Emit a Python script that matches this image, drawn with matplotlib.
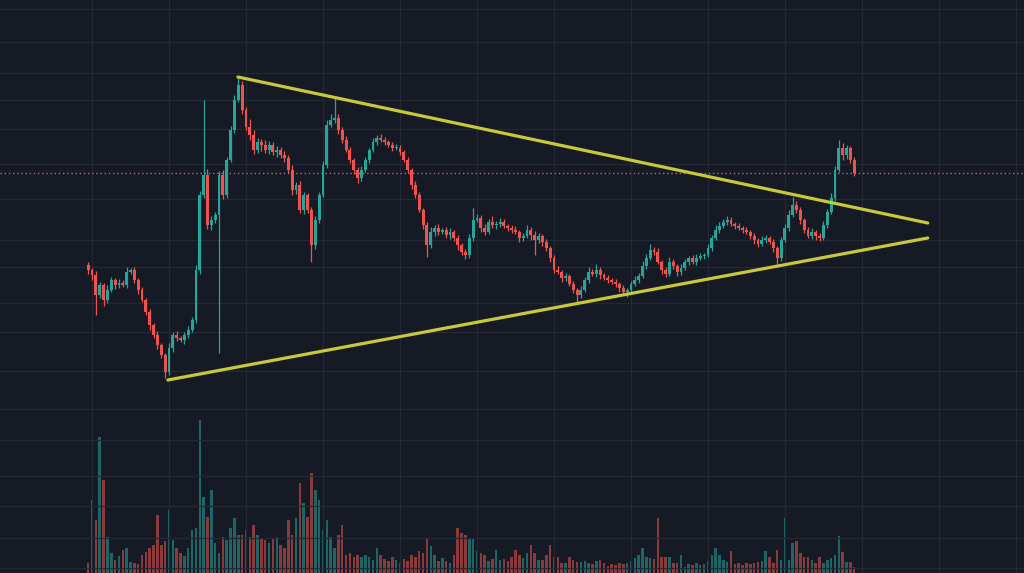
import numpy as np
import matplotlib
matplotlib.use("Agg")
import matplotlib.pyplot as plt

# Datos (precio en unidades arbitrarias, una vela por periodo)
first_open = 30.8
close = [
    30.3, 29.8, 27.8, 28.8, 27.3, 28.3, 29.3, 28.8, 29.0, 28.8,
    30.1, 30.3, 29.3, 28.3, 27.3, 26.1, 24.8, 23.8, 22.8, 21.8,
    20.1, 22.5, 23.8, 23.5, 23.3, 23.8, 24.3, 25.3, 30.3, 37.8,
    39.8, 34.8, 35.3, 35.8, 39.8, 37.8, 41.3, 44.3, 47.3, 48.8,
    46.3, 44.6, 43.8, 42.3, 43.1, 42.8, 42.3, 42.8, 42.1, 42.3,
    41.8, 41.5, 40.3, 38.3, 38.8, 36.3, 37.8, 36.3, 32.8, 35.3,
    37.8, 40.8, 44.8, 45.3, 45.5, 44.3, 43.3, 42.3, 41.3, 40.3,
    39.5, 40.3, 41.3, 42.3, 43.1, 43.5, 43.3, 43.1, 42.8, 42.5,
    42.5, 42.1, 41.3, 40.3, 38.8, 37.8, 36.3, 34.8, 32.8, 34.1,
    34.5, 34.1, 34.3, 33.8, 34.1, 33.5, 32.8, 32.1, 31.8, 33.5,
    35.3, 35.5, 34.5, 34.1, 35.1, 34.8, 34.9, 35.1, 34.7, 34.5,
    34.3, 34.1, 33.5, 33.7, 34.3, 33.8, 33.3, 33.7, 33.1, 32.5,
    31.5, 30.3, 30.1, 29.5, 29.7, 28.9, 28.3, 27.8, 28.3, 29.3,
    30.1, 29.9, 30.3, 29.8, 29.5, 29.3, 29.1, 28.9, 28.5, 28.1,
    28.3, 28.9, 29.3, 29.7, 30.7, 31.5, 32.3, 32.1, 31.1, 30.3,
    29.9, 31.1, 30.7, 30.1, 30.5, 31.1, 31.5, 31.1, 31.5, 31.7,
    31.8, 32.5, 33.5, 34.3, 34.7, 35.1, 35.3, 34.9, 34.7, 34.5,
    34.3, 34.1, 33.7, 33.3, 32.9, 33.3, 33.5, 33.1, 32.5, 31.5,
    33.3, 34.5, 35.8, 36.8, 36.3, 35.3, 34.3, 33.7, 34.1, 33.7,
    33.5, 34.8, 36.1, 37.5, 40.3, 42.5, 41.8, 42.5, 41.3, 40.0,
]
wick_up = [
    .3, .2, .4, .3, .2, .5, .3, .2, .4, .3,
    .5, .2, .3, .2, .3, .2, .3, .2, .4, .2,
    .2, .5, .3, .4, .2, .3, .4, .3, .5, .4,
    7.5, .6, .4, .3, .4, .5, .3, .4, .5, .8,
    .4, .3, .8, .5, .4, .3, .5, .4, .3, .4,
    .3, .4, .3, .5, .3, .4, .3, .2, .3, .4,
    .3, .4, .5, .6, 2.0, .4, .3, .4, .3, .2,
    .3, .4, .3, .2, .4, .3, .4, .3, .2, .3,
    .4, .3, .2, .3, .2, .4, .3, .2, .3, .5,
    .3, .4, .2, .3, .4, .2, .3, .2, .3, .4,
    1.2, .4, .3, .4, .3, .6, .3, .4, .3, .2,
    .3, .4, .2, .3, .5, .3, .4, .3, .2, .3,
    .2, .3, .4, .2, .3, .2, .3, .2, .4, .3,
    .5, .3, .6, .3, .2, .3, .2, .3, .2, .3,
    .2, .3, .4, .3, .5, .4, .6, .3, .4, .2,
    .3, .5, .3, .2, .4, .3, .2, .3, .4, .3,
    .2, .4, .3, .5, .4, .3, .4, .3, .2, .3,
    .2, .3, .2, .3, .2, .4, .3, .2, .3, .2,
    .3, .4, .5, .8, .4, .3, .2, .3, .4, .2,
    .3, .4, .3, .5, .4, .8, .5, .3, .2, .3,
]
wick_dn = [
    .4, .5, 2.0, .3, .6, .3, .2, .4, .3, .2,
    .3, .2, .3, .4, .2, .3, .5, .3, .4, .3,
    .6, .3, .4, .3, .2, .4, .3, .2, .3, .4,
    .3, .4, .5, .3, 13.8, .4, .3, .2, .3, .2,
    .4, .3, .5, .4, .3, .6, .3, .4, .3, .5,
    .3, .4, .3, .5, .4, .3, .4, .3, 1.7, .4,
    .3, .2, .3, .2, .3, .4, .3, .2, .3, .4,
    .5, .3, .2, .3, .2, .3, .2, .3, .2, .3,
    .2, .3, .2, .3, .4, .3, .2, .4, 1.2, .3,
    .4, .3, .2, .3, .4, .3, .5, .3, .4, .3,
    .3, .2, .4, .3, .2, .3, .4, .3, .2, .3,
    .3, .2, .4, .3, .2, .5, 1.5, .3, .4, .3,
    .4, .3, .2, .4, .3, .2, .3, .7, .3, .2,
    .3, .2, .3, .4, .2, .3, .2, .3, .4, .3,
    .5, .3, .2, .3, .2, .3, .2, .3, .2, .4,
    .3, .2, .3, .4, .3, .2, .3, .2, .3, .2,
    .3, .2, .3, .2, .3, .2, .3, .2, .3, .2,
    .3, .2, .3, .4, .3, .2, .3, .2, .4, .9,
    .3, .2, .3, .2, .3, .4, .3, .2, .3, .4,
    .3, .2, .3, .2, .3, .2, .5, .4, .3, .3,
]
volume = [
    10, 73, 53, 136, 93, 36, 20, 13, 17, 23,
    25, 11, 10, 9, 18, 21, 25, 28, 58, 28,
    32, 63, 33, 25, 20, 17, 25, 43, 45, 153,
    76, 56, 83, 30, 20, 36, 33, 45, 55, 38,
    38, 43, 36, 48, 38, 35, 33, 30, 35, 36,
    28, 25, 53, 38, 55, 90, 70, 56, 100, 83,
    73, 43, 53, 36, 25, 38, 48, 18, 20, 16,
    18, 16, 18, 16, 13, 25, 18, 14, 12, 16,
    13, 10, 14, 12, 18, 16, 22, 20, 35, 27,
    18, 12, 15, 12, 10, 18, 45, 40, 38, 35,
    35, 22, 20, 18, 12, 14, 23, 13, 14, 12,
    16, 23, 18, 15, 20, 28, 20, 13, 13, 18,
    28, 16, 16, 10, 10, 16, 13, 11, 11, 12,
    10, 9, 12, 13, 10, 7, 9, 8, 10, 9,
    10, 12, 15, 18, 25, 16, 15, 14, 55, 16,
    16, 16, 10, 10, 18, 6, 9, 8, 10, 8,
    9, 12, 18, 25, 18, 13, 11, 22, 9, 10,
    8, 10, 9, 10, 11, 12, 22, 16, 10, 23,
    13, 55, 13, 30, 32, 20, 16, 16, 13, 10,
    16, 10, 13, 15, 18, 37, 21, 11, 11, 6,
]
# Lineas de tendencia (indice de vela, precio)
upper_line = ([38.9, 218.1], [49.6, 35.0])
lower_line = ([20.7, 218.1], [19.3, 33.5])
# Lineas de cuadricula
grid_x = np.arange(1, 250, 20)
grid_y = [56.4, 53.1, 50.0, 47.3, 44.4, 40.9, 37.4, 33.3, 30.6, 27.0,
          24.1, 20.2, 16.4, 13.3, 9.7, 6.7, 3.5, 0.5]

bg = "#161a25"
up_col = "#26a69a"
dn_col = "#ef5350"

close = np.array(close)
opens = np.concatenate([[first_open], close[:-1]])
high = np.maximum(opens, close) + np.array(wick_up)
low = np.minimum(opens, close) - np.array(wick_dn)
idx = np.arange(len(close))
colors = np.where(close >= opens, up_col, dn_col)

fig = plt.figure(figsize=(10.24, 5.73), dpi=100, facecolor=bg)
ax = fig.add_axes([0, 0, 1, 1])
ax.set_facecolor("none")
axv = ax.twinx()
axv.set_facecolor("none")
ax.set_zorder(2)
axv.set_zorder(1)

# Volumen
axv.bar(idx, volume, width=0.65, color=colors, alpha=0.55, linewidth=0)
axv.set_ylim(0, max(volume) * 3.75)
axv.set_yticks([])

# Velas
ax.vlines(idx, low, high, colors=colors, linewidth=0.9, zorder=3)
body = np.maximum(np.abs(close - opens), 0.15)
ax.bar(idx, body, bottom=np.minimum(opens, close), width=0.75,
       color=colors, linewidth=0, zorder=4)

# Lineas de tendencia
ax.plot(upper_line[0], upper_line[1], color="#c8c83c", linewidth=2.3,
        solid_capstyle="round", zorder=5)
ax.plot(lower_line[0], lower_line[1], color="#c8c83c", linewidth=2.3,
        solid_capstyle="round", zorder=5)

# Linea del ultimo precio
ax.axhline(close[-1], color="#b07078", linewidth=1.0,
           linestyle=(0, (1, 2)), zorder=2)

ax.set_xlim(-22.9, 243.1)
ax.set_ylim(0, 57.3)
ax.set_xticks(grid_x)
ax.set_yticks(grid_y)
ax.grid(True, color="#232834", linewidth=0.9)
ax.set_axisbelow(True)
ax.tick_params(length=0, labelbottom=False, labelleft=False)
for a in (ax, axv):
    for s in a.spines.values():
        s.set_visible(False)

fig.savefig("out.png", dpi=100, facecolor=bg)
